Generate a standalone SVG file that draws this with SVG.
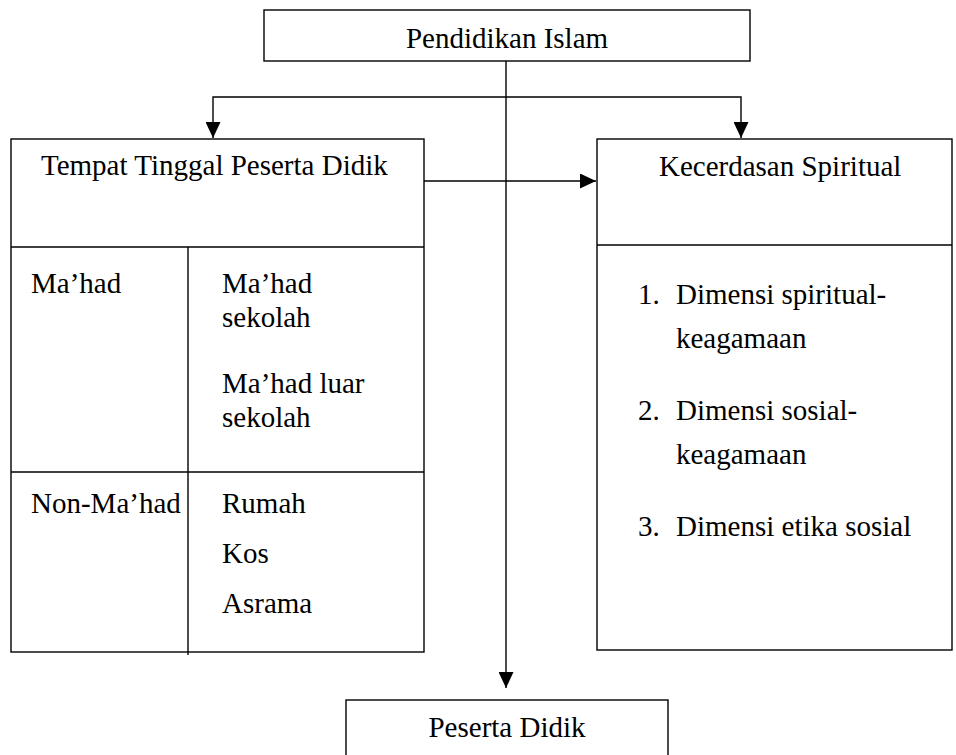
<svg xmlns="http://www.w3.org/2000/svg" width="956" height="755" viewBox="0 0 956 755">
<style>
.box{fill:#fff;stroke:#000;stroke-width:1.4}
.ln{fill:none;stroke:#000;stroke-width:1.4}
text{font-family:'Liberation Serif','Times New Roman',Times,serif;font-size:29px;fill:#000}
</style>
<defs>
<marker id="ah" markerWidth="16" markerHeight="15" refX="16" refY="7.5" orient="auto" markerUnits="userSpaceOnUse">
<path d="M0,0 L16,7.5 L0,15 Z" fill="#000"/>
</marker>
</defs>
<rect width="956" height="755" fill="#fff"/>
<g id="connectors">
<line class="ln" x1="506" y1="61" x2="506" y2="688" marker-end="url(#ah)"/>
<polyline class="ln" points="213,110 213,97 741,97 741,110"/>
<line class="ln" x1="213" y1="110" x2="213" y2="138" marker-end="url(#ah)"/>
<line class="ln" x1="741" y1="110" x2="741" y2="138" marker-end="url(#ah)"/>
<line class="ln" x1="424" y1="181" x2="596" y2="181" marker-end="url(#ah)"/>
</g>
<g id="pendidikan-islam">
<rect class="box" x="264" y="10" width="486" height="51"/>
<text x="507" y="48" text-anchor="middle">Pendidikan Islam</text>
</g>
<g id="tempat-tinggal">
<rect class="box" x="11" y="139" width="413" height="513"/>
<line class="ln" x1="11" y1="247" x2="424" y2="247"/>
<line class="ln" x1="11" y1="472" x2="424" y2="472"/>
<line class="ln" x1="188" y1="247" x2="188" y2="655"/>
<text x="41" y="175">Tempat Tinggal Peserta Didik</text>
<text x="31" y="293">Ma’had</text>
<text x="222" y="293">Ma’had</text>
<text x="222" y="327">sekolah</text>
<text x="222" y="393">Ma’had luar</text>
<text x="222" y="427">sekolah</text>
<text x="31" y="513">Non-Ma’had</text>
<text x="222" y="513">Rumah</text>
<text x="222" y="563">Kos</text>
<text x="222" y="613">Asrama</text>
</g>
<g id="kecerdasan-spiritual">
<rect class="box" x="597" y="139" width="355" height="511"/>
<line class="ln" x1="597" y1="245" x2="952" y2="245"/>
<text x="659" y="176">Kecerdasan Spiritual</text>
<text x="638" y="304">1.</text>
<text x="676" y="304">Dimensi spiritual-</text>
<text x="676" y="348">keagamaan</text>
<text x="638" y="420">2.</text>
<text x="676" y="420">Dimensi sosial-</text>
<text x="676" y="464">keagamaan</text>
<text x="638" y="536">3.</text>
<text x="676" y="536">Dimensi etika sosial</text>
</g>
<g id="peserta-didik">
<rect class="box" x="346" y="700" width="322" height="80"/>
<text x="507" y="737" text-anchor="middle">Peserta Didik</text>
</g>
</svg>
